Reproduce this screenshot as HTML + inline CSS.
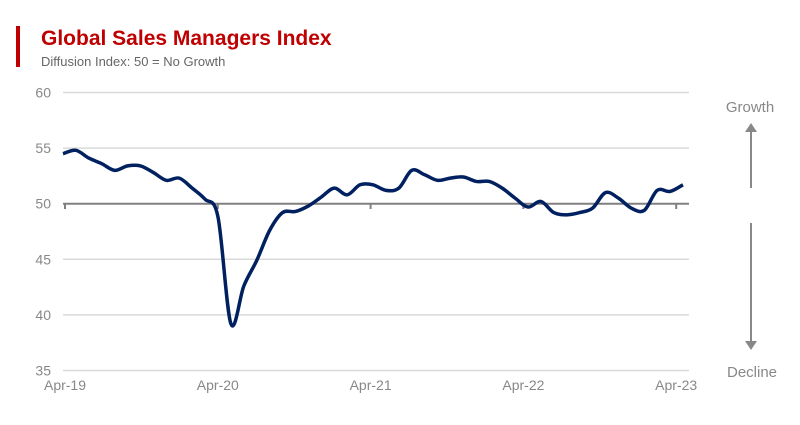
<!DOCTYPE html>
<html><head><meta charset="utf-8"><style>
body{margin:0;background:#fff;width:800px;height:420px;overflow:hidden;font-family:"Liberation Sans",sans-serif}
</style></head><body>
<svg width="800" height="420" xmlns="http://www.w3.org/2000/svg" font-family="Liberation Sans, sans-serif">
<rect x="16" y="26" width="4" height="41" fill="#c00000"/>
<text x="41" y="45" font-size="21" font-weight="bold" fill="#c00000">Global Sales Managers Index</text>
<text x="41" y="66" font-size="13" fill="#666">Diffusion Index: 50 = No Growth</text>
<g id="grid"></g><g id="yl"></g><g id="xl"></g>
<path id="line" fill="none" stroke="#002060" stroke-width="3.5" stroke-linejoin="round"/>
<text x="750" y="112" font-size="15" fill="#888" text-anchor="middle">Growth</text>
<line x1="751" y1="188" x2="751" y2="130" stroke="#888" stroke-width="2"/>
<polygon points="745,132 757,132 751,123" fill="#888"/>
<line x1="751" y1="223" x2="751" y2="343" stroke="#888" stroke-width="2"/>
<polygon points="745,341 757,341 751,350" fill="#888"/>
<text x="752" y="377" font-size="15" fill="#888" text-anchor="middle">Decline</text>
</svg>
<script>
const values=[54.5,54.8,54.1,53.6,53.0,53.4,53.4,52.8,52.1,52.3,51.4,50.4,48.8,39.2,42.6,44.9,47.6,49.2,49.3,49.8,50.6,51.4,50.8,51.7,51.7,51.2,51.4,53.0,52.6,52.1,52.3,52.4,52.0,52.0,51.4,50.5,49.7,50.2,49.2,49.0,49.2,49.6,51.0,50.5,49.6,49.4,51.2,51.1,51.7];
const yTicks=[35,40,45,50,55,60];
const xTickLabels=["Apr-19","Apr-20","Apr-21","Apr-22","Apr-23"];
const xTickIdx=[0,12,24,36,48];
const ns="http://www.w3.org/2000/svg";
function X(i){return 63+i*(620/48);}
function Y(v){return 203.7-(v-50)*11.12;}
function tX(k){return 65+k*152.8;}
function mk(t,a,p){const e=document.createElementNS(ns,t);for(const k in a)e.setAttribute(k,a[k]);document.getElementById(p).appendChild(e);return e;}
yTicks.forEach(v=>{
 const l=mk('line',{x1:63,x2:689,y1:Y(v),y2:Y(v),stroke:v===50?'#808080':'#d9d9d9','stroke-width':v===50?2:1.5},'grid');
 
 
 const t=mk('text',{x:51,y:Y(v)+5,'font-size':14,fill:'#888','text-anchor':'end'},'yl');
 t.textContent=v;
 
 
});
xTickLabels.forEach((s,k)=>{
 const tk=mk('line',{x1:tX(k),x2:tX(k),y1:203.7,y2:209,stroke:'#808080','stroke-width':2},'grid');
 
 
 const t=mk('text',{x:tX(k),y:390,'font-size':14,fill:'#888','text-anchor':'middle'},'xl');
 t.textContent=s;
 
 
});
const P=values.map((v,i)=>[X(i),Y(v)]);
let d='M'+P[0][0]+','+P[0][1];
for(let i=0;i<P.length-1;i++){
 const p0=P[Math.max(0,i-1)],p1=P[i],p2=P[i+1],p3=P[Math.min(P.length-1,i+2)];
 const c1=[p1[0]+(p2[0]-p0[0])/6,p1[1]+(p2[1]-p0[1])/6],c2=[p2[0]-(p3[0]-p1[0])/6,p2[1]-(p3[1]-p1[1])/6];
 d+=' C'+c1+' '+c2+' '+p2;
}
document.getElementById('line').setAttribute('d',d);
</script>
</body></html>
